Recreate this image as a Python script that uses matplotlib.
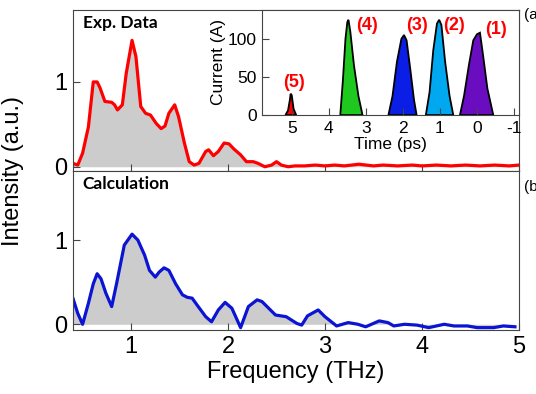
import matplotlib.pyplot as plt

plt.rcParams['font.family'] = ['Liberation Sans', 'DejaVu Sans']
plt.rcParams['axes.unicode_minus'] = False

# measured spectrum (top panel)
exp_freq = [0.40, 0.45, 0.50, 0.56, 0.61, 0.65, 0.68, 0.73, 0.80, 0.83, 0.86, 0.91,
            0.95, 1.01, 1.05, 1.10, 1.15, 1.20, 1.26, 1.31, 1.35, 1.39, 1.45, 1.49,
            1.55, 1.60, 1.65, 1.70, 1.77, 1.80, 1.85, 1.90, 1.96, 2.01, 2.06, 2.13,
            2.19, 2.26, 2.31, 2.38, 2.45, 2.50, 2.55, 2.62, 2.69, 2.79, 2.90, 3.00,
            3.10, 3.20, 3.35, 3.50, 3.60, 3.75, 3.90, 4.00, 4.15, 4.30, 4.45, 4.60,
            4.75, 4.90, 5.00]
exp_int = [0.04, 0.02, 0.16, 0.47, 1.00, 1.00, 0.93, 0.77, 0.76, 0.73, 0.67, 0.73,
           1.10, 1.49, 1.30, 0.71, 0.63, 0.61, 0.51, 0.45, 0.48, 0.63, 0.73, 0.59,
           0.28, 0.06, 0.02, 0.04, 0.18, 0.20, 0.13, 0.18, 0.28, 0.27, 0.21, 0.14,
           0.06, 0.06, 0.04, 0.00, 0.02, 0.06, 0.02, 0.00, 0.01, 0.01, 0.02, 0.01,
           0.02, 0.01, 0.03, 0.01, 0.02, 0.01, 0.02, 0.01, 0.02, 0.01, 0.02, 0.01,
           0.02, 0.01, 0.02]

# calculated spectrum (bottom panel)
calc_freq = [0.40, 0.45, 0.50, 0.56, 0.61, 0.65, 0.69, 0.74, 0.80, 0.85, 0.93, 1.01,
             1.07, 1.14, 1.19, 1.25, 1.29, 1.34, 1.39, 1.46, 1.53, 1.58, 1.63, 1.68,
             1.77, 1.83, 1.90, 1.97, 2.04, 2.13, 2.21, 2.30, 2.35, 2.49, 2.60, 2.71,
             2.76, 2.82, 2.93, 3.00, 3.12, 3.24, 3.34, 3.42, 3.56, 3.65, 3.71, 3.82,
             3.95, 4.07, 4.23, 4.33, 4.47, 4.57, 4.74, 4.84, 4.96]
calc_int = [0.31, 0.13, 0.00, 0.25, 0.48, 0.60, 0.54, 0.37, 0.21, 0.48, 0.94, 1.07,
            1.00, 0.82, 0.64, 0.56, 0.62, 0.67, 0.64, 0.48, 0.35, 0.32, 0.31, 0.23,
            0.09, 0.03, 0.17, 0.26, 0.19, -0.04, 0.21, 0.29, 0.27, 0.11, 0.09, 0.01,
            -0.01, 0.10, 0.17, 0.09, -0.02, 0.02, 0.00, -0.03, 0.04, 0.02, -0.02, 0.00,
            -0.01, -0.04, 0.00, -0.02, -0.02, -0.04, -0.04, -0.02, -0.03]

# bunch current profiles (inset)
bunch_names = ['(1)', '(2)', '(3)', '(4)', '(5)']
bunch_colors = ['#6a0dc0', '#00a8f0', '#0a1ee6', '#1ec81e', '#ff0000']
bunch_time = [
    [0.46, 0.35, 0.22, 0.10, 0.00, -0.08, -0.16, -0.28, -0.44],
    [1.38, 1.28, 1.18, 1.08, 1.02, 0.96, 0.86, 0.74, 0.64],
    [2.39, 2.28, 2.16, 2.04, 1.97, 1.90, 1.80, 1.70, 1.63],
    [3.69, 3.62, 3.55, 3.50, 3.47, 3.42, 3.32, 3.20, 3.09],
    [5.17, 5.10, 5.05, 5.03, 5.00, 4.95, 4.88],
]
bunch_current = [
    [0, 25, 65, 98, 106, 108, 80, 35, 0],
    [0, 30, 85, 120, 125, 118, 70, 25, 0],
    [0, 25, 70, 100, 105, 98, 60, 20, 0],
    [0, 45, 100, 122, 125, 110, 65, 25, 0],
    [0, 6, 20, 28, 26, 8, 0],
]
label_pos = [(-0.51, 112), (0.62, 118), (1.62, 118), (2.97, 118), (4.93, 43)]

fig = plt.figure(figsize=(5.36, 3.94), dpi=100)
ax1 = fig.add_axes([0.136, 0.566, 0.832, 0.409])
ax2 = fig.add_axes([0.136, 0.162, 0.832, 0.404])
spine_c = '#444444'

for ax, f, v, col, ylim, name in [
        (ax1, exp_freq, exp_int, '#ff0000', (-0.05, 1.85), 'Exp. Data'),
        (ax2, calc_freq, calc_int, '#0a14d2', (-0.07, 1.82), 'Calculation')]:
    ax.fill_between(f, v, 0, color='#cccccc', lw=0)
    ax.plot(f, v, color=col, lw=2.3)
    ax.set_xlim(0.4, 5.0)
    ax.set_ylim(*ylim)
    ax.set_xticks([1, 2, 3, 4, 5])
    ax.set_yticks([0, 1])
    ax.tick_params(direction='in', length=5, width=0.8, color=spine_c,
                   labelsize=17, pad=4)
    for s in ax.spines.values():
        s.set_color(spine_c)
    ax.text(0.022, 0.92, name, transform=ax.transAxes, fontsize=12.5,
            fontweight='bold', family='Lato', va='center')

ax1.tick_params(labelbottom=False)
ax2.set_xlabel('Frequency (THz)', fontsize=17, labelpad=2)
fig.text(0.025, 0.566, 'Intensity (a.u.)', rotation=90, fontsize=17,
         ha='center', va='center')
fig.text(0.978, 0.962, '(a)', fontsize=11, va='center')
fig.text(0.978, 0.525, '(b)', fontsize=11, va='center')

# inset
ins = fig.add_axes([0.489, 0.708, 0.479, 0.267])
for t, c, col in zip(bunch_time, bunch_current, bunch_colors):
    ins.fill(t, c, facecolor=col, edgecolor='black', lw=1.3)
for name, (tx, ty) in zip(bunch_names, label_pos):
    ins.text(tx, ty, name, color='#ff0000', fontsize=13, fontweight='bold',
             ha='center', va='center')
ins.set_xlim(5.8, -1.13)
ins.set_ylim(0, 138)
ins.set_xticks([5, 4, 3, 2, 1, 0, -1])
ins.set_yticks([0, 50, 100])
ins.tick_params(direction='in', length=5, width=0.8, color=spine_c,
                labelsize=12.5, pad=4)
for s in ins.spines.values():
    s.set_color(spine_c)
ins.set_xlabel('Time (ps)', fontsize=12.5, labelpad=1)
ins.set_ylabel('Current (A)', fontsize=12.5, labelpad=1)

fig.savefig('out.png', dpi=100)
